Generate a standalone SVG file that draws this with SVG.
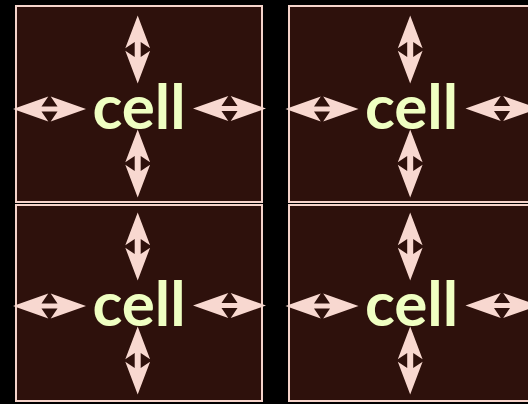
<svg xmlns="http://www.w3.org/2000/svg" xmlns:xlink="http://www.w3.org/1999/xlink" width="528" height="404" viewBox="0 0 528 404">
<style>
.cellbox{fill:#2e110c;stroke:#f5d3ca;stroke-width:2}
.arr{fill:#f8d8d0}
.lbl{font-family:Lato,"Liberation Sans",sans-serif;font-weight:700;font-size:62px;fill:#efffc2;text-anchor:middle}
</style>
<defs>
<path id="ah" d="M-36.5,0 L-1.2,-12.4 L-8,-2.6 L8,-2.6 L1.2,-12.4 L36.5,0 L1.2,12.4 L8,2.6 L-8,2.6 L-1.2,12.4 Z"/>
<path id="av" d="M0,-34 L-12.4,-1.2 L-3,-7.5 L-3,7.5 L-12.4,1.2 L0,34 L12.4,1.2 L3,7.5 L3,-7.5 L12.4,-1.2 Z"/>
<g id="content">
<use xlink:href="#av" class="arr" x="137.7" y="49.5"/>
<use xlink:href="#av" class="arr" x="137.7" y="163.5"/>
<use xlink:href="#ah" class="arr" x="49.5" y="109"/>
<use xlink:href="#ah" class="arr" x="229.5" y="108.5"/>
<text class="lbl" x="139" y="129">cell</text>
</g>
</defs>
<rect width="528" height="404" fill="#000"/>
<g id="cell-top-left">
<rect class="cellbox" x="16" y="6" width="246" height="196"/>
<use xlink:href="#content"/>
</g>
<g id="cell-top-right">
<rect class="cellbox" x="289" y="6" width="246" height="196"/>
<use xlink:href="#content" transform="translate(272.5,0)"/>
</g>
<g id="cell-bottom-left">
<rect class="cellbox" x="16" y="205" width="246" height="196"/>
<use xlink:href="#content" transform="translate(0,197)"/>
</g>
<g id="cell-bottom-right">
<rect class="cellbox" x="289" y="205" width="246" height="196"/>
<use xlink:href="#content" transform="translate(272.5,197)"/>
</g>
<g id="connectors"></g>
</svg>
